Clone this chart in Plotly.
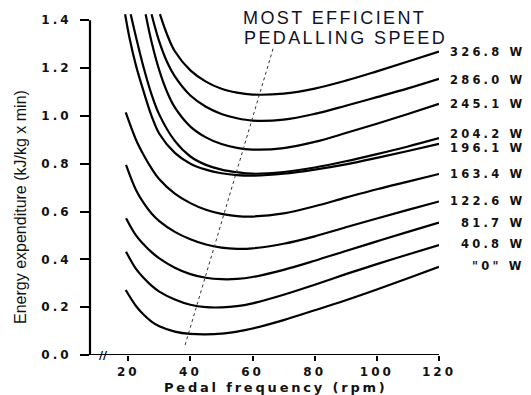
import plotly.graph_objects as go

# ---------------- data ----------------
powers = ["326.8 W", "286.0 W", "245.1 W", "204.2 W", "196.1 W",
          "163.4 W", "122.6 W", "81.7 W", "40.8 W", "\"0\" W"]

x_326 = [30.2, 32.5, 35, 40, 45, 50, 55, 60, 70, 80, 90, 100, 110, 120]
y_326 = [1.425, 1.34, 1.27, 1.19, 1.143, 1.113, 1.097, 1.089, 1.093, 1.114, 1.147, 1.186, 1.227, 1.269]

x_286 = [27.5, 30, 32.5, 35, 40, 45, 50, 55, 60, 70, 80, 90, 100, 110, 120]
y_286 = [1.425, 1.31, 1.225, 1.165, 1.085, 1.038, 1.008, 0.99, 0.98, 0.984, 1.008, 1.042, 1.078, 1.115, 1.155]

x_245 = [25.6, 27.5, 30, 32.5, 35, 40, 45, 50, 55, 60, 70, 80, 90, 100, 110, 120]
y_245 = [1.425, 1.31, 1.19, 1.10, 1.035, 0.955, 0.91, 0.882, 0.866, 0.859, 0.865, 0.891, 0.928, 0.967, 1.008, 1.05]

x_204 = [20.8, 22.5, 25, 27.5, 30, 35, 40, 45, 50, 55, 60, 70, 80, 90, 100, 110, 120]
y_204 = [1.425, 1.33, 1.20, 1.09, 1.005, 0.895, 0.83, 0.795, 0.775, 0.764, 0.758, 0.765, 0.784, 0.81, 0.84, 0.872, 0.907]

x_196 = [19.0, 20.5, 22.5, 25, 27.5, 30, 35, 40, 45, 50, 55, 60, 70, 80, 90, 100, 110, 120]
y_196 = [1.425, 1.32, 1.21, 1.10, 1.0, 0.925, 0.845, 0.80, 0.775, 0.76, 0.752, 0.75, 0.758, 0.775, 0.797, 0.824, 0.853, 0.883]

x_163 = [19.2, 22.5, 25, 27.5, 30, 35, 40, 45, 50, 55, 60, 70, 80, 90, 100, 110, 120]
y_163 = [1.014, 0.90, 0.835, 0.78, 0.735, 0.675, 0.635, 0.607, 0.59, 0.581, 0.579, 0.592, 0.622, 0.658, 0.693, 0.725, 0.757]

x_122 = [19.3, 22.5, 25, 27.5, 30, 35, 40, 45, 50, 55, 60, 70, 80, 90, 100, 110, 120]
y_122 = [0.795, 0.69, 0.635, 0.592, 0.56, 0.515, 0.484, 0.462, 0.449, 0.444, 0.446, 0.465, 0.496, 0.534, 0.571, 0.607, 0.642]

x_81 = [19.3, 22.5, 25, 27.5, 30, 35, 40, 45, 50, 55, 60, 70, 80, 90, 100, 110, 120]
y_81 = [0.572, 0.50, 0.462, 0.43, 0.404, 0.365, 0.338, 0.323, 0.317, 0.318, 0.326, 0.356, 0.394, 0.435, 0.475, 0.515, 0.554]

x_40 = [19.3, 22.5, 25, 27.5, 30, 35, 40, 45, 50, 55, 60, 70, 80, 90, 100, 110, 120]
y_40 = [0.432, 0.36, 0.322, 0.29, 0.265, 0.232, 0.21, 0.20, 0.199, 0.204, 0.216, 0.252, 0.294, 0.338, 0.38, 0.42, 0.46]

x_0 = [19.2, 22.5, 25, 27.5, 30, 35, 40, 45, 50, 55, 60, 70, 80, 90, 100, 110, 120]
y_0 = [0.272, 0.205, 0.168, 0.14, 0.12, 0.098, 0.088, 0.086, 0.089, 0.098, 0.111, 0.146, 0.187, 0.229, 0.274, 0.321, 0.369]

efficient_x = [38.3, 66.7]
efficient_y = [0.042, 1.285]

x_ticks = [20, 40, 60, 80, 100, 120]
y_ticks = [0.0, 0.2, 0.4, 0.6, 0.8, 1.0, 1.2, 1.4]
y_tick_labels = ["0.0", "0.2", "0.4", "0.6", "0.8", "1.0", "1.2", "1.4"]

series_x = [x_326, x_286, x_245, x_204, x_196, x_163, x_122, x_81, x_40, x_0]
series_y = [y_326, y_286, y_245, y_204, y_196, y_163, y_122, y_81, y_40, y_0]
label_shift = [0, -1, 0, 4, -4, 0, 0, 0, 1, 1]

# ---------------- layout constants ----------------
W, H = 531, 395
L, R, T, B = 90, 92, 13, 40
PW, PH = W - L - R, H - T - B
X0, X1 = 7.7, 120
Y0, Y1 = 0, 1.43
INK = "black"


def sp(txt, ls):
    return f'<span style="letter-spacing:{ls}px">{txt}</span>'


def px_to_paper_x(px):
    return (px - L) / PW


def px_to_paper_y(py):
    return (H - B - py) / PH


fig = go.Figure()
for xs, ys in zip(series_x, series_y):
    fig.add_trace(go.Scatter(x=xs, y=ys, mode="lines",
                             line=dict(color=INK, width=2.2, shape="spline", smoothing=1.0),
                             hoverinfo="skip", showlegend=False, cliponaxis=True))

fig.add_trace(go.Scatter(x=efficient_x, y=efficient_y, mode="lines",
                         line=dict(color="#333333", width=1.0, dash="dot"),
                         hoverinfo="skip", showlegend=False))

annotations = []
for name, ys, sh in zip(powers, series_y, label_shift):
    annotations.append(dict(
        x=1, xref="paper", y=ys[-1], yref="y", xanchor="right", yanchor="middle",
        xshift=88, yshift=sh, showarrow=False,
        text=sp(name, 3.2),
        font=dict(family="DejaVu Sans", size=11.5, color="#111111", weight="bold")))

title_font = dict(family="Liberation Sans", size=18, color="#101228")
annotations.append(dict(x=px_to_paper_x(241), y=px_to_paper_y(18), xref="paper", yref="paper",
                        xanchor="left", yanchor="middle", showarrow=False,
                        text=sp("MOST EFFICIENT", 2.4), font=title_font))
annotations.append(dict(x=px_to_paper_x(242), y=px_to_paper_y(37.5), xref="paper", yref="paper",
                        xanchor="left", yanchor="middle", showarrow=False,
                        text=sp("PEDALLING SPEED", 2.4), font=title_font))

annotations.append(dict(x=px_to_paper_x(276), y=px_to_paper_y(387), xref="paper", yref="paper",
                        xanchor="center", yanchor="middle", showarrow=False,
                        text=sp("Pedal frequency (rpm)", 2.8),
                        font=dict(family="DejaVu Sans", size=13, color="#111111", weight="bold")))

annotations.append(dict(x=px_to_paper_x(20), y=px_to_paper_y(207), xref="paper", yref="paper",
                        xanchor="center", yanchor="middle", showarrow=False, textangle=-90,
                        text="Energy expenditure (kJ/kg x min)",
                        font=dict(family="Liberation Sans", size=16, color="#111111")))

annotations.append(dict(x=px_to_paper_x(103), y=0, xref="paper", yref="y",
                        xanchor="center", yanchor="middle", showarrow=False,
                        text="<b>//</b>",
                        font=dict(family="DejaVu Sans", size=11, color=INK)))

shapes = [
    dict(type="line", xref="paper", yref="y", x0=0, x1=0, y0=0, y1=1.4,
         line=dict(color=INK, width=2.2)),
    dict(type="line", xref="paper", yref="y", x0=0, x1=1, y0=0, y1=0,
         line=dict(color=INK, width=2)),
]

tick_font = dict(family="DejaVu Sans", size=12, color="#111111", weight="bold")
fig.update_layout(
    width=W, height=H,
    margin=dict(l=L, r=R, t=T, b=B, pad=0),
    paper_bgcolor="white", plot_bgcolor="white",
    showlegend=False,
    annotations=annotations, shapes=shapes,
    xaxis=dict(range=[X0, X1], tickvals=x_ticks,
               ticktext=[sp(str(v), 3) for v in x_ticks],
               ticks="outside", ticklen=5, tickwidth=1.6, tickcolor=INK,
               showgrid=False, zeroline=False, showline=False,
               tickfont=tick_font, ticklabelstandoff=1),
    yaxis=dict(range=[Y0, Y1], tickvals=y_ticks,
               ticktext=[sp(t, 3) for t in y_tick_labels],
               ticks="outside", ticklen=9, tickwidth=1.6, tickcolor=INK,
               showgrid=False, zeroline=False, showline=False,
               tickfont=tick_font, ticklabelstandoff=6),
)

fig.write_html("out.html")
